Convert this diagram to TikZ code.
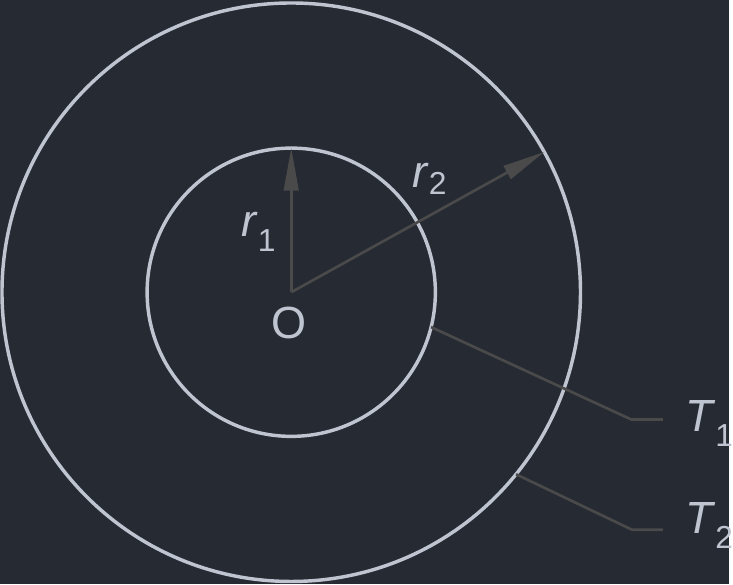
\documentclass[tikz,border=0pt]{standalone}
\usepackage{fontspec}
\setmainfont{Liberation Sans}
\usetikzlibrary{arrows.meta}
\definecolor{bgdark}{HTML}{262A33}
\definecolor{ringgray}{HTML}{BFC5D0}
\definecolor{leadgray}{HTML}{4A4A4A}
\newcommand{\lowsub}[1]{\raisebox{-0.33em}{\fontsize{24}{28}\selectfont #1}}
\begin{document}
\begin{tikzpicture}[
x=0.75pt,y=-0.75pt,
ring/.style={
  draw=ringgray,
  circle,
  line width=2.6pt,
  inner sep=0pt,
  outer sep=0pt
  },
radius/.style={
  draw=leadgray,
  line width=2pt,
  -{Triangle[length=32pt,width=11pt]}
  },
leader/.style={
  draw=leadgray,
  line width=2pt
  },
lbl/.style={
  text=ringgray,
  inner sep=0pt,
  font=\fontsize{34}{40}\selectfont
  }
]
\fill[bgdark] (0,0) rectangle (733,588);
\coordinate (O) at (293,294);
\node[ring,minimum size=436.5pt] (outer) at (O) {};
\node[ring,minimum size=217.5pt] (inner) at (O) {};
% radii
\draw[radius] (O) -- (inner.north);
\draw[radius] (O) -- (outer.29.6);
\node[lbl] (rone) at (260,233) {\textit{r}\lowsub{1}};
\node[lbl] (rtwo) at (432,180) {\textit{r}\raisebox{-0.15em}{\fontsize{24}{28}\selectfont 2}};
\node[lbl] (Olbl) at (291,325) {O};
% leaders to the temperatures
\coordinate (kone) at (635,422);
\coordinate (eone) at (667,422);
\coordinate (ktwo) at (636,533);
\coordinate (etwo) at (667,533);
\draw[leader] (inner.-14.3) -- (kone) -- (eone);
\draw[leader] (outer.-39.5) -- (ktwo) -- (etwo);
\node[lbl,anchor=west] (Tone) at (689,426) {\textit{T}\lowsub{1}};
\node[lbl,anchor=west] (Ttwo) at (689,529) {\textit{T}\lowsub{2}};
\end{tikzpicture}
\end{document}
